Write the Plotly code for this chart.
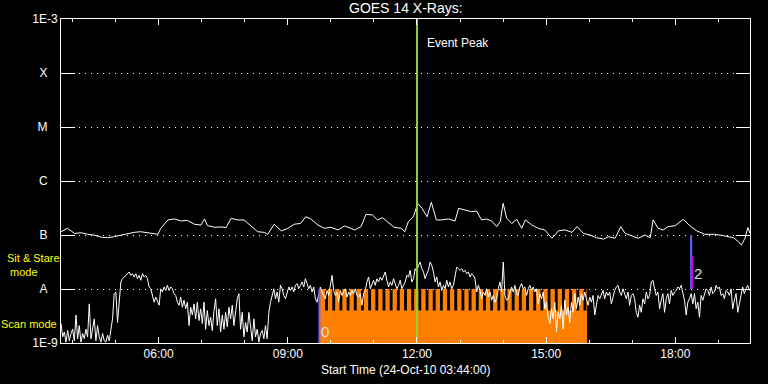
import pandas as pd
import plotly.graph_objects as go

START = pd.Timestamp("2010-10-24 03:44:00")
END = pd.Timestamp("2010-10-24 19:44:00")
DAY = "2010-10-24 "

# Long channel (upper curve): minutes after start, flux in nW/m^2 (1e-9 W/m^2)
long_minutes = [0, 9, 19, 28, 37, 46, 56, 65, 74, 84, 93, 102, 111, 121, 130, 135, 139, 149, 158, 167,
                176, 186, 195, 200, 204, 214, 223, 230, 237, 246, 255, 265, 274, 283, 288, 297, 307, 316, 325, 334,
                341, 348, 358, 367, 376, 386, 395, 404, 409, 418, 425, 434, 441, 448, 458, 464, 474,
                479, 484, 491, 497, 503, 510, 516, 523, 530, 540, 549, 554, 563, 572, 579, 586, 593, 600, 607, 612,
                616, 621, 628, 635, 642, 647, 656, 665, 674, 684, 693, 702, 712, 719, 728, 737, 746, 756, 763, 772,
                780, 786, 795, 804, 814, 821, 825, 832, 839, 846, 856, 867, 876, 886, 897, 911, 925, 937, 944, 948,
                953, 957, 960]
long_flux_nw = [115, 133, 107, 110, 103, 100, 91, 89, 93, 100, 107, 112, 115, 110, 103, 103, 133, 190, 198, 182,
                187, 158, 153, 198, 149, 139, 141, 137, 204, 190, 190, 143, 115, 112, 103, 158, 119, 133, 158, 164,
                218, 198, 153, 133, 139, 124, 147, 133, 124, 143, 241, 235, 190, 209, 164, 139, 133,
                115, 177, 218, 386, 312, 218, 403, 190, 190, 198, 182, 312, 290, 270, 278, 190, 198, 182, 143, 177,
                386, 204, 164, 195, 133, 190, 153, 133, 124, 87, 119, 124, 112, 143, 107, 100, 89, 84, 93, 87,
                143, 107, 97, 87, 100, 89, 190, 133, 124, 143, 149, 195, 149, 119, 103, 103, 96, 89, 75, 65,
                87, 137, 107]

# Short channel (lower curve): regular cadence from start, flux in nW/m^2
short_cadence_s = 139
short_flux_nw = [
    2.3, 1.3, 1.6, 1.04, 1.7, 1.1, 1.5, 1.8, 1.1, 3.3,
    1.2, 2.1, 1.04, 1.5, 1.2, 1.8, 1.3, 5.3, 1.2, 2.0,
    2.8, 1.1, 2.1, 1.3, 1.04, 1.5, 1.1, 1.04, 1.4, 1.1,
    1.8, 2.8, 8.2, 8.8, 2.4, 6.6, 13.5, 15.5, 16.7, 17.9,
    19.2, 20.7, 17.9, 19.2, 16.7, 19.2, 15.5, 17.9, 14.5, 19.2,
    16.7, 17.9, 15.5, 10.9, 10.1, 7.6, 5.7, 7.1, 5.7, 5.0,
    10.1, 8.8, 10.9, 9.4, 11.7, 9.4, 10.9, 10.1, 8.2, 7.6,
    5.7, 5.0, 7.1, 4.6, 6.2, 4.3, 5.7, 2.1, 4.6, 3.3,
    5.3, 2.8, 5.7, 2.6, 4.3, 2.3, 5.7, 1.8, 4.0, 2.1,
    3.0, 1.7, 4.0, 6.6, 2.1, 4.3, 1.6, 3.3, 1.8, 3.7,
    2.0, 4.6, 2.8, 5.0, 2.1, 4.3, 6.6, 8.2, 1.8, 3.7,
    1.3, 2.4, 1.6, 3.7, 1.8, 1.1, 2.8, 1.3, 1.8, 1.04,
    1.5, 1.7, 1.2, 2.1, 1.2, 3.7, 5.7, 8.2, 10.1, 6.6,
    8.8, 5.7, 11.7, 10.1, 7.6, 6.6, 8.8, 10.9,
    9.4, 10.9, 8.8, 11.7, 12.6, 10.1, 11.7, 13.5, 10.9, 15.5,
    12.6, 10.1, 11.7, 8.8, 10.9, 6.6, 5.7, 7.6, 10.9, 8.8,
    7.6, 6.6, 9.4, 7.6, 11.7, 17.9, 9.4, 7.6, 8.8, 5.7,
    9.4, 7.6, 8.8, 10.1, 7.1, 8.8, 7.6, 9.4, 8.2, 10.1,
    7.6, 7.1, 8.2, 5.0, 8.2, 9.4, 13.5, 16.7, 10.1, 12.6,
    14.5, 11.7, 15.5, 13.5, 16.7, 14.5, 17.9, 20.7, 14.5, 10.9,
    13.5, 11.7, 15.5, 12.6, 10.1, 11.7, 14.5, 10.1, 11.7, 13.5,
    17.9, 16.7, 22.2, 13.5, 15.5, 23.8, 20.7, 27.4, 31.6, 23.8,
    20.7, 15.5, 19.2, 22.2, 31.6, 27.4, 20.7, 13.5, 16.7, 10.9,
    13.5, 9.4, 11.7, 10.1, 14.5, 10.9, 13.5, 10.1, 11.7, 17.9,
    25.5, 23.8, 22.2, 23.8, 20.7, 22.2, 19.2, 20.7, 16.7, 19.2,
    17.9, 15.5, 8.8, 11.7, 9.4, 6.6, 8.8, 7.6, 10.1, 7.1,
    8.8, 6.2, 7.6, 5.7, 6.6, 10.1, 13.5, 8.8, 31.6, 7.6,
    6.2, 6.6, 8.2, 10.9, 8.8, 11.7, 8.2, 7.6,
    10.9, 12.6, 10.1, 10.9, 7.6, 10.1, 11.7, 9.4, 10.9, 8.8,
    10.1, 5.3, 8.2, 6.6, 8.8, 4.3, 5.7, 3.0, 2.3, 4.3,
    2.8, 5.7, 1.6, 3.7, 2.8, 5.0, 1.8, 6.2, 3.3, 4.6,
    2.4, 5.7, 3.7, 8.2, 4.3, 7.1, 5.0, 8.2, 6.2, 8.8,
    6.6, 5.0, 7.1, 5.7, 7.6, 3.3, 5.0, 7.6, 6.6, 8.2,
    9.4, 6.6, 8.8, 7.6, 8.8, 5.3, 7.1, 9.4, 10.9, 11.7,
    8.8, 7.6, 10.1, 8.2, 6.6, 8.8, 5.0, 7.6, 8.2, 6.6,
    3.7, 3.0, 5.0, 3.7, 6.6, 5.3, 8.8, 6.6, 7.6, 13.5,
    14.5, 10.1, 7.6, 8.8, 4.3, 6.2, 8.2, 3.7, 6.6, 8.2,
    5.3, 9.4, 7.6, 8.8, 9.4, 10.9, 10.1, 11.7, 8.2, 6.2,
    3.3, 5.7, 6.6, 8.2, 5.3, 8.2, 4.3, 5.7, 3.0, 7.6,
    6.2, 8.2, 10.1, 9.4, 7.6, 10.9, 8.2, 8.8, 11.7, 10.1,
    10.9, 7.6, 8.2, 6.6, 9.4, 8.8, 7.6, 10.1, 4.3, 6.2,
    8.2, 3.7, 5.7, 7.6, 10.9, 8.2, 10.1, 11.7, 9.4,
]

# Observing mode (orange): sit & stare with short scan gaps
mode_start = "09:44"
mode_end = "15:57"
scan_gap_starts = ["09:52", "10:02", "10:12", "10:22", "10:32", "10:42", "10:52",
                   "11:02", "11:12", "11:22", "11:32", "11:42", "11:52",
                   "12:02", "12:12", "12:22", "12:32", "12:42", "12:52",
                   "13:02", "13:12", "13:22", "13:32", "13:42", "13:52",
                   "14:02", "14:12", "14:22", "14:32", "14:42", "14:52",
                   "15:02", "15:12", "15:22", "15:32", "15:42", "15:52"]
scan_gap_len_min = 4
level_floor = 1e-9
level_sit_stare = 1e-8
level_scan = 4e-9

event_peak_time = "12:00"
event0_time = "09:44"
event0_range = [1e-9, 1e-8]
event2_time = "18:22"
event2_range = [1e-8, 1e-7]
event2_sub_time = "18:23:30"
event2_sub_range = [1e-8, 4.1e-8]

y_tickvals = [1e-9, 1e-8, 1e-7, 1e-6, 1e-5, 1e-4, 1e-3]
NB = "\u00a0"
y_ticktext = ["1E-9", "A" + NB * 3, "B" + NB * 3, "C" + NB * 3, "M" + NB * 3, "X" + NB * 3, "1E-3"]

FONT = "Liberation Sans, Arial, sans-serif"
WHITE = "#FFFFFF"
YELLOW = "#FFFF00"
ORANGE = "#FF8000"
GREEN = "#9ACD32"
BLUE = "#6464FF"
MAGENTA = "#CC00DD"


def t(hhmm):
    return pd.Timestamp(DAY + hhmm)


long_x = [START + pd.Timedelta(minutes=m) for m in long_minutes]
long_y = [v * 1e-9 for v in long_flux_nw]
short_x = [START + pd.Timedelta(seconds=short_cadence_s * i) for i in range(len(short_flux_nw))]
short_y = [v * 1e-9 for v in short_flux_nw]

mode_x = [t(mode_start)]
mode_y = [level_sit_stare]
for g in scan_gap_starts:
    mode_x += [t(g), t(g) + pd.Timedelta(minutes=scan_gap_len_min)]
    mode_y += [level_scan, level_sit_stare]
mode_x.append(t(mode_end))
mode_y.append(level_sit_stare)

fig = go.Figure()
fig.add_trace(go.Scatter(x=[t(mode_start), t(mode_end)], y=[level_floor, level_floor], mode="lines",
                         line=dict(width=0), hoverinfo="skip", showlegend=False))
fig.add_trace(go.Scatter(x=mode_x, y=mode_y, mode="lines", line=dict(width=0, shape="hv"),
                         fill="tonexty", fillcolor=ORANGE, showlegend=False))
fig.add_trace(go.Scatter(x=long_x, y=long_y, mode="lines", line=dict(color=WHITE, width=1),
                         showlegend=False))
fig.add_trace(go.Scatter(x=short_x, y=short_y, mode="lines", line=dict(color=WHITE, width=1),
                         showlegend=False))


def vline(time_str, yr, color):
    fig.add_trace(go.Scatter(x=[t(time_str), t(time_str)], y=yr, mode="lines",
                             line=dict(color=color, width=2), showlegend=False, cliponaxis=True))


vline(event_peak_time, [1e-9, 1e-3], GREEN)
vline(event0_time, event0_range, BLUE)
vline(event2_time, event2_range, BLUE)
vline(event2_sub_time, event2_sub_range, MAGENTA)

ann_font = dict(family=FONT, size=12, color=WHITE)
fig.add_annotation(text="GOES 14 X-Rays:", xref="paper", yref="paper", x=0.5, y=1,
                   xanchor="center", yanchor="bottom", yshift=1, showarrow=False,
                   font=dict(family=FONT, size=14, color=WHITE))
fig.add_annotation(text="Start Time (24-Oct-10 03:44:00)", xref="paper", yref="paper", x=0.5, y=0,
                   xanchor="center", yanchor="top", yshift=-18, showarrow=False, font=ann_font)
fig.add_annotation(text="Event Peak", xref="x", yref="paper", x=t(event_peak_time), y=0.926,
                   xanchor="left", yanchor="middle", xshift=8, showarrow=False, font=ann_font)
fig.add_annotation(text="0", xref="x", yref="y", x=t(event0_time), y=-8.796,
                   xanchor="left", yanchor="middle", xshift=0, showarrow=False,
                   font=dict(family=FONT, size=15, color="#E0E0E0"))
fig.add_annotation(text="2", xref="x", yref="y", x=t(event2_time), y=-7.722,
                   xanchor="left", yanchor="middle", xshift=1, showarrow=False,
                   font=dict(family=FONT, size=15, color="#E0E0E0"))
yfont = dict(family=FONT, size=11, color=YELLOW)
fig.add_annotation(text="Sit & Stare", xref="paper", yref="y", x=0, y=-7.43, xanchor="center",
                   yanchor="middle", xshift=-28, showarrow=False, font=yfont)
fig.add_annotation(text="mode", xref="paper", yref="y", x=0, y=-7.69, xanchor="center",
                   yanchor="middle", xshift=-37, showarrow=False, font=yfont)
fig.add_annotation(text="Scan mode", xref="paper", yref="y", x=0, y=-8.648, xanchor="center",
                   yanchor="middle", xshift=-32, showarrow=False, font=yfont)

fig.update_layout(
    width=768, height=384,
    margin=dict(l=61, r=18, t=19, b=41),
    paper_bgcolor="black", plot_bgcolor="black",
    showlegend=False,
    font=dict(family=FONT, size=12, color=WHITE),
    xaxis=dict(type="date", range=[START, END], showgrid=False, zeroline=False,
               showline=True, linecolor=WHITE, linewidth=1, mirror="ticks",
               ticks="inside", ticklen=6, tickcolor=WHITE, tickwidth=1,
               tick0="2010-10-24 00:00", dtick=3 * 3600000, tickformat="%H:%M",
               tickfont=dict(family=FONT, size=12, color=WHITE),
               minor=dict(dtick=3600000, ticks="inside", ticklen=3, tickcolor=WHITE, showgrid=False)),
    yaxis=dict(type="log", range=[-9, -3], tickvals=y_tickvals, ticktext=y_ticktext,
               showline=True, linecolor=WHITE, linewidth=1, mirror="ticks",
               ticks="inside", ticklen=14, tickcolor=WHITE, tickwidth=1,
               showgrid=True, gridcolor=WHITE, gridwidth=1, griddash="1px,5px",
               zeroline=False, tickfont=dict(family=FONT, size=12, color=WHITE)),
)

fig.write_html("out.html")
